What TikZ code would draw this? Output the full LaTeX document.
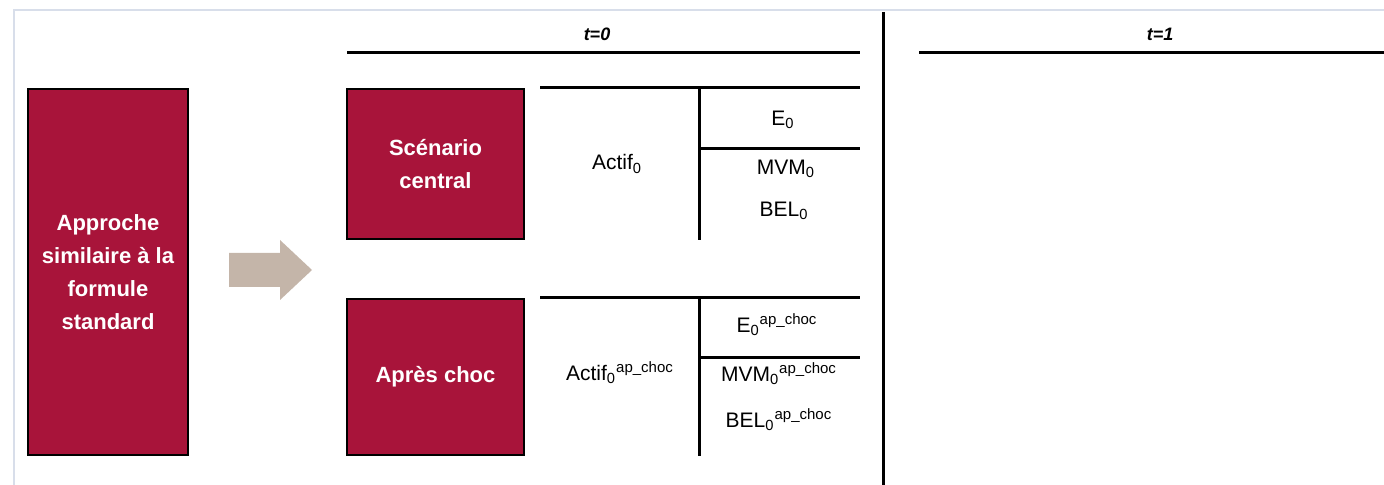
\documentclass[tikz,border=0pt]{standalone}
\usepackage{fontspec}
\setmainfont{Liberation Sans}
\usetikzlibrary{positioning}
\definecolor{crimson}{HTML}{A8143A}
\definecolor{tan}{HTML}{C4B5A9}
\definecolor{framec}{HTML}{D8DEEA}
\tikzset{
  redbox/.style={draw=black, line width=0.6pt, fill=crimson, text=white, font=\bfseries\fontsize{11}{16.5}\selectfont, align=center, inner sep=0pt},
  rule/.style={line width=1.5pt, black},
  lbl/.style={font=\fontsize{10.5}{12}\selectfont, inner sep=0pt, anchor=center},
  tlbl/.style={font=\bfseries\itshape\fontsize{9}{10}\selectfont, inner sep=0pt},
}
\newcommand{\sbt}[1]{\textsubscript{#1}}
\newcommand{\spt}[1]{\textsuperscript{\fontsize{7.5}{8}\selectfont #1}}
\begin{document}
\begin{tikzpicture}[x=0.5pt,y=-0.5pt]
\useasboundingbox (0,0) rectangle (1384,485);
% frame
\draw[framec, line width=0.8pt] (14,485) -- (14,10) -- (1384,10);
% left box
\node[redbox, minimum width=80pt, minimum height=183pt] (appr) at (108,272)
  {Approche\\similaire à la\\formule\\standard};
% arrow
\fill[tan] (229,253) -- (280,253) -- (280,240) -- (312,270) -- (280,300) -- (280,287) -- (229,287) -- cycle;
\coordinate (arr) at (270,270);
% time headers
\draw[rule] (347,53) -- (860,53);
\node[tlbl] (t0) at (597,34) {t=0};
\draw[rule] (919,53) -- (1384,53);
\node[tlbl] (t1) at (1160,34) {t=1};
\draw[rule] (883,12) -- (883,485);
% scenario central
\node[redbox, minimum width=88.5pt, minimum height=75pt] (sc) at (435.5,164) {Scénario\\central};
\draw[rule] (540,88) -- (860,88);
\draw[rule] (699,88) -- (699,240);
\draw[rule] (699,149) -- (860,149);
\node[lbl] (a0) at (617,164) {Actif\sbt{0}};
\node[lbl] (e0) at (783,120) {E\sbt{0}};
\node[lbl] (m0) at (786,169) {MVM\sbt{0}};
\node[lbl] (b0) at (784,211) {BEL\sbt{0}};
% apres choc
\node[redbox, minimum width=88.5pt, minimum height=78pt] (ac) at (435.5,377) {Après choc};
\draw[rule] (540,298) -- (860,298);
\draw[rule] (699,298) -- (699,456);
\draw[rule] (699,358) -- (860,358);
\node[lbl] (a1) at (620,373) {Actif\sbt{0}\spt{ap\_choc}};
\node[lbl] (e1) at (777,325) {E\sbt{0}\spt{ap\_choc}};
\node[lbl] (m1) at (779,374) {MVM\sbt{0}\spt{ap\_choc}};
\node[lbl] (b1) at (779,420) {BEL\sbt{0}\spt{ap\_choc}};
\end{tikzpicture}
\end{document}
